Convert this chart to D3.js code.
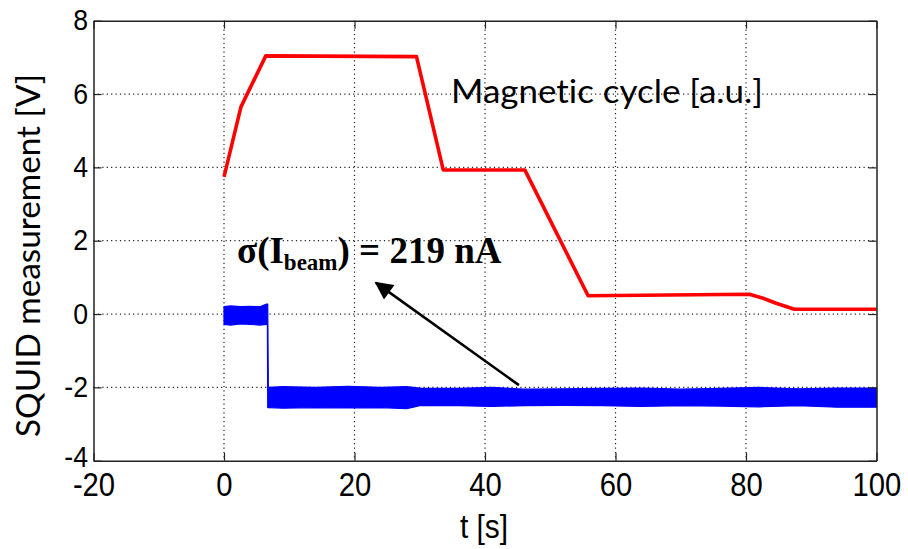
<!DOCTYPE html>
<html>
<head>
<meta charset="utf-8">
<script src="https://cdn.jsdelivr.net/npm/d3@7"></script>
<style>
  html, body { margin: 0; padding: 0; background: #fff; }
  svg { display: block; }
  text { font-variant-ligatures: none; font-feature-settings: "liga" 0, "clig" 0, "dlig" 0; }
</style>
</head>
<body>
<svg id="chart" width="908" height="549"></svg>
<script>
// Tick values
const xTicks = [-20, 0, 20, 40, 60, 80, 100];
const yTicks = [-4, -2, 0, 2, 4, 6, 8];

// Magnetic cycle (red)
const redT = [0, 2.6, 6.4, 29.5, 33.6, 46.1, 55.8, 80.5, 82.5, 84.5, 87.4, 100];
const redV = [3.74, 5.65, 7.04, 7.02, 3.93, 3.93, 0.5, 0.54, 0.44, 0.3, 0.13, 0.13];

// SQUID signal (blue): envelope of the noisy band
const blueT     = [0, 1, 2.5, 4, 5.5, 6.5, 6.65, 6.7, 6.8, 9, 14, 19, 24, 28, 30, 36, 41, 46, 52, 58, 64, 70, 76, 82, 88, 94, 100];
const blueUpper = [0.2, 0.22, 0.2, 0.21, 0.2, 0.27, 0.27, 0.27, -2.0, -1.98, -2.0, -1.97, -2.0, -1.98, -2.02, -2.03, -2.0, -2.05, -2.04, -2.03, -2.02, -2.05, -2.03, -2.0, -2.04, -2.02, -2.02];
const blueLower = [-0.28, -0.3, -0.27, -0.28, -0.3, -0.28, -0.28, -2.55, -2.55, -2.57, -2.55, -2.56, -2.55, -2.58, -2.5, -2.5, -2.52, -2.5, -2.49, -2.5, -2.52, -2.5, -2.51, -2.53, -2.5, -2.54, -2.54];

const svg = d3.select('#chart');
const margin = { top: 20.7, right: 31.5, bottom: 88.3, left: 93.5 };
const width = 908 - margin.left - margin.right;
const height = 549 - margin.top - margin.bottom;

const x = d3.scaleLinear().domain([-20, 100]).range([0, width]);
const y = d3.scaleLinear().domain([-4, 8]).range([height, 0]);

const g = svg.append('g').attr('transform', `translate(${margin.left},${margin.top})`);

// Dotted grid
const grid = g.append('g').attr('class', 'grid')
  .attr('stroke', '#222').attr('stroke-width', 1.2).attr('stroke-dasharray', '1.2,3.2');
grid.selectAll('line.gx').data(xTicks.slice(1, -1)).join('line')
  .attr('class', 'gx')
  .attr('x1', d => x(d)).attr('x2', d => x(d))
  .attr('y1', 0).attr('y2', height);
grid.selectAll('line.gy').data(yTicks.slice(1, -1)).join('line')
  .attr('class', 'gy')
  .attr('x1', 0).attr('x2', width)
  .attr('y1', d => y(d)).attr('y2', d => y(d));

// Blue band
const blueData = blueT.map((t, i) => ({ t, hi: blueUpper[i], lo: blueLower[i] }));
const band = d3.area()
  .x(d => x(d.t))
  .y0(d => y(d.lo))
  .y1(d => y(d.hi));
g.append('path')
  .datum(blueData)
  .attr('d', band)
  .attr('fill', '#0000ff')
  .attr('stroke', '#0000ff')
  .attr('stroke-width', 1.2)
  .attr('stroke-linejoin', 'round');

// Red line
const redData = redT.map((t, i) => ({ t, v: redV[i] }));
g.append('path')
  .datum(redData)
  .attr('d', d3.line().x(d => x(d.t)).y(d => y(d.v)))
  .attr('fill', 'none')
  .attr('stroke', '#ff0000')
  .attr('stroke-width', 3.6)
  .attr('stroke-linejoin', 'round');

// Axes (ticks pointing inward, box on all sides)
const axisFont = '"Liberation Sans", Arial, sans-serif';
const xAxis = g.append('g')
  .attr('transform', `translate(0,${height})`)
  .call(d3.axisBottom(x).tickValues(xTicks).tickSizeInner(-8).tickSizeOuter(0).tickPadding(11).tickFormat(d3.format('d')));
const xTop = g.append('g')
  .call(d3.axisTop(x).tickValues(xTicks).tickSizeInner(-8).tickSizeOuter(0).tickFormat(''));
const yAxis = g.append('g')
  .call(d3.axisLeft(y).tickValues(yTicks).tickSizeInner(-8).tickSizeOuter(0).tickPadding(6).tickFormat(d3.format('d')));
const yRight = g.append('g')
  .attr('transform', `translate(${width},0)`)
  .call(d3.axisRight(y).tickValues(yTicks).tickSizeInner(-8).tickSizeOuter(0).tickFormat(''));

[xAxis, xTop, yAxis, yRight].forEach(a => {
  a.select('.domain').attr('stroke', '#222').attr('stroke-width', 1.5);
  a.selectAll('.tick line').attr('stroke', '#222').attr('stroke-width', 1.2);
});
xAxis.selectAll('text')
  .attr('font-family', axisFont).attr('font-size', 34).attr('fill', '#000')
  .attr('transform', 'scale(0.86,1)')
  .text(d => d < 0 ? '-' + Math.abs(d) : d);
yAxis.selectAll('text')
  .attr('font-family', axisFont).attr('font-size', 29).attr('fill', '#000')
  .attr('transform', d => d === -4 ? 'translate(0,-3) scale(0.92,1)' : 'scale(0.92,1)')
  .text(d => d < 0 ? '-' + Math.abs(d) : d);

// Axis titles
svg.append('text')
  .attr('transform', 'translate(484,538) scale(0.88,1)')
  .attr('text-anchor', 'middle')
  .attr('font-family', axisFont).attr('font-size', 34)
  .text('t [s]');

svg.append('text')
  .attr('transform', 'translate(40,255.5) rotate(-90)')
  .attr('text-anchor', 'middle')
  .attr('font-family', 'Lato, "Open Sans", sans-serif').attr('font-size', 32)
  .attr('textLength', 363).attr('lengthAdjust', 'spacingAndGlyphs')
  .text('SQUID measurement [V]');

// Annotations
const mag = g.append('text')
  .attr('x', 451 - margin.left).attr('y', 103 - margin.top)
  .attr('font-family', 'Lato, "Open Sans", sans-serif').attr('font-size', 33)
  .attr('textLength', 312).attr('lengthAdjust', 'spacingAndGlyphs');
// split "ti" so the font cannot join it into a ligature
mag.append('tspan').text('Magnet');
mag.append('tspan').text('ic cycle [a.u.]');

const sigma = g.append('text')
  .attr('x', 237 - margin.left).attr('y', 263 - margin.top)
  .attr('font-family', '"Liberation Serif", "Times New Roman", serif')
  .attr('font-weight', 'bold').attr('font-size', 37);
sigma.append('tspan').text('σ(I');
sigma.append('tspan').attr('font-size', 23).attr('dy', 7).text('beam');
sigma.append('tspan').attr('dy', -7).text(') = 219 nA');

// Arrow
svg.append('defs').append('marker')
  .attr('id', 'head')
  .attr('viewBox', '0 0 10 10')
  .attr('refX', 9).attr('refY', 5)
  .attr('markerUnits', 'userSpaceOnUse')
  .attr('orient', 'auto')
  .attr('markerWidth', 20).attr('markerHeight', 18)
  .append('path')
  .attr('d', 'M0,0 L10,5 L0,10 Z')
  .attr('fill', '#000');

g.append('line')
  .attr('x1', x(45.2)).attr('y1', y(-1.94))
  .attr('x2', x(23.3)).attr('y2', y(0.85))
  .attr('stroke', '#000').attr('stroke-width', 2.6)
  .attr('marker-end', 'url(#head)');
</script>
</body>
</html>
